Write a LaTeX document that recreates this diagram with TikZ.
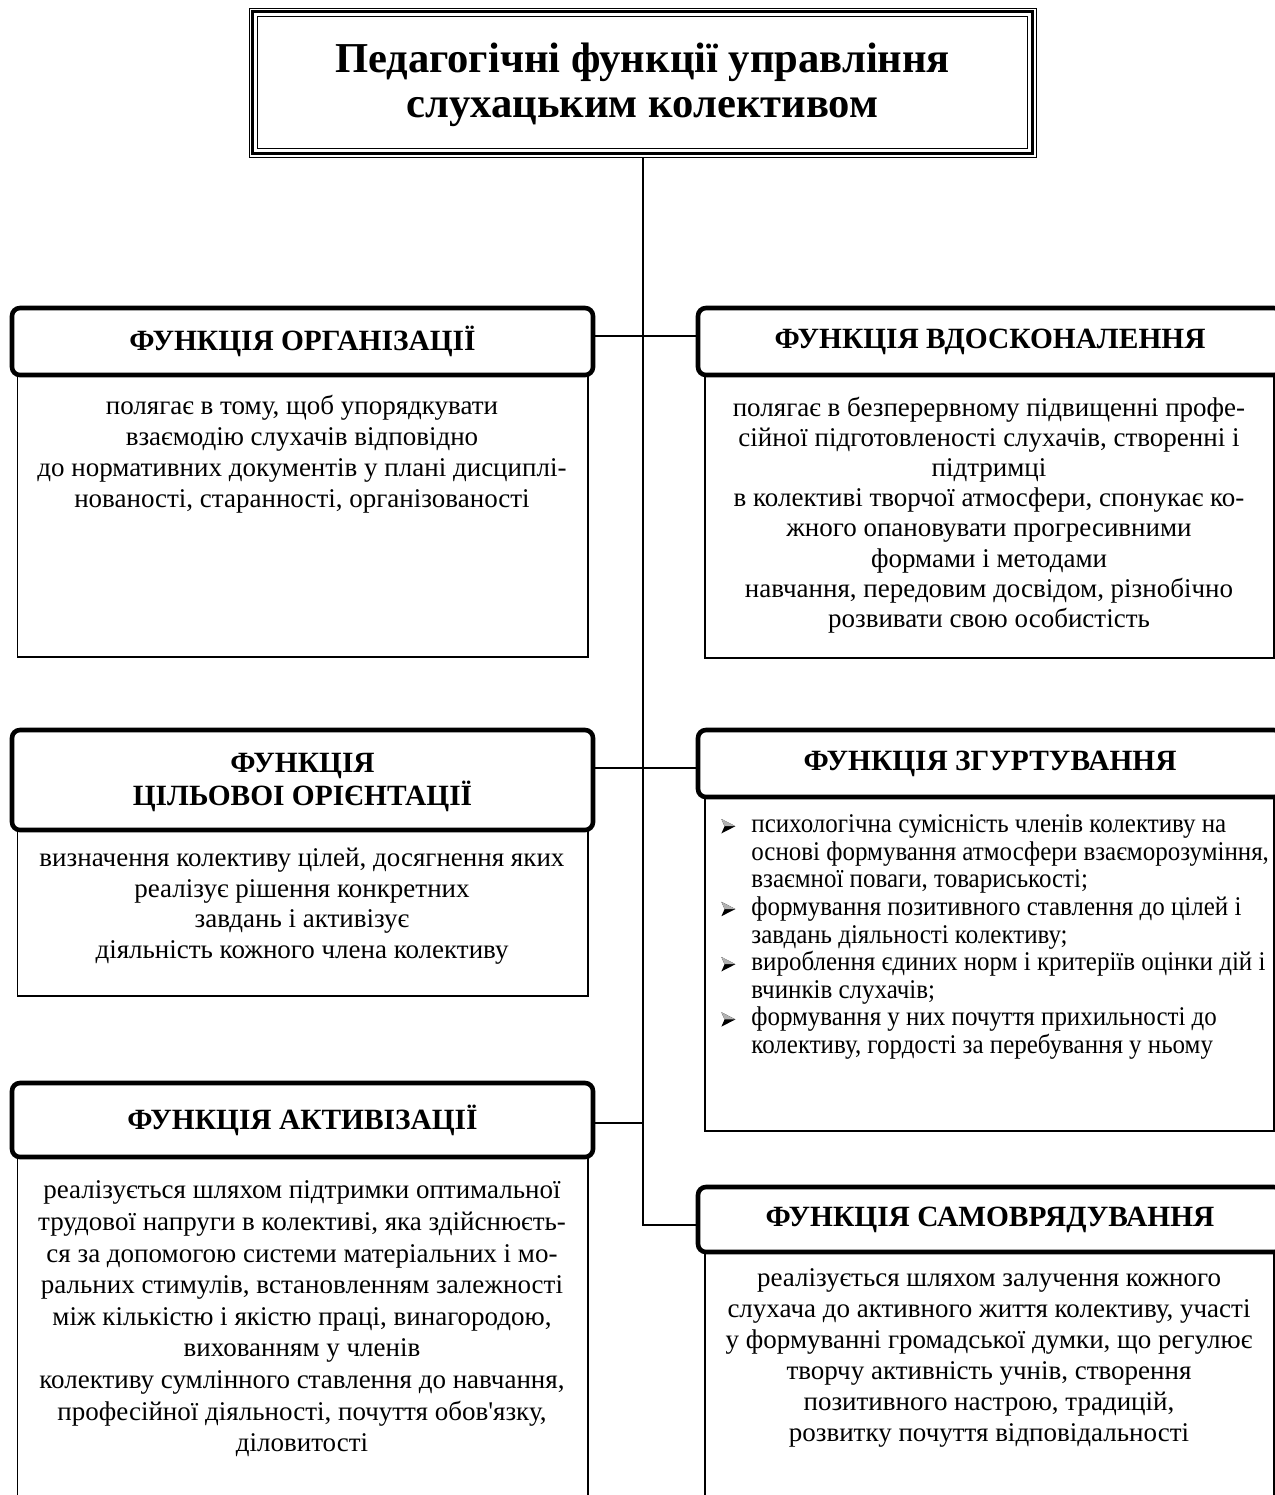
\documentclass[tikz,border=0pt]{standalone}
\usepackage{fontspec}
\setmainfont{Liberation Serif}[Ligatures=TeXOff]
\newfontfamily\condserif{Liberation Serif}[Ligatures=TeXOff, FakeStretch=0.925]
\newcommand\myarrow{\tikz[baseline=-3.2pt,x=1pt,y=1pt]{\fill[black] (0,3.6)--(7,0)--(0,-3.6)--(1.6,0)--cycle; \fill[gray!60] (0,3.6)--(7,0)--(1.6,0)--cycle;}}
\newcommand\mybul{\makebox[15pt][l]{\myarrow}}
\newcommand\myind{\hspace*{15pt}}
\begin{document}
\begin{tikzpicture}[x=0.5pt,y=-0.5pt,
  hdr/.style={draw, line width=2.3pt, rounded corners=4pt, fill=white, align=center,
    font=\fontsize{14.7}{16.5}\selectfont\bfseries, inner sep=0pt},
  bodybox/.style={draw, line width=0.85pt, fill=white, inner sep=0pt},
  txt/.style={align=center, font=\fontsize{13.5}{15.5}\selectfont, inner sep=0pt},
  conn/.style={line width=1pt}]
\fill[white] (0,0) rectangle (1275,1495);
\useasboundingbox (0,0) rectangle (1275,1495);

% title
\node[draw, line width=0.5pt, minimum width=393.5pt, minimum height=74.5pt, inner sep=0pt] (title) at (642.5,82.5) {};
\node[align=center, font=\fontsize{21.3}{22.5}\selectfont\bfseries, inner sep=0pt] (titletext) at (642.5,85)
  {Педагогічні функції управління\\слухацьким колективом};
\draw[line width=1.6pt] ([shift={(4,4)}]title.north west) rectangle ([shift={(-4,-4)}]title.south east);
\draw[line width=0.7pt] ([shift={(9,9)}]title.north west) rectangle ([shift={(-9,-9)}]title.south east);

% body boxes
\node[bodybox, minimum width=285.25pt, minimum height=141pt] (b1) at (302.75,516) {};
\node[bodybox, minimum width=284.5pt, minimum height=141pt] (b2) at (989.5,517) {};
\node[bodybox, minimum width=285.25pt, minimum height=83pt] (b3) at (302.75,913) {};
\node[bodybox, minimum width=284.5pt, minimum height=167pt] (b4) at (989.5,964) {};
\node[bodybox, minimum width=285.25pt, minimum height=176.5pt] (b5) at (302.75,1333.5) {};
\node[bodybox, minimum width=284.5pt, minimum height=129pt] (b6) at (989.5,1381) {};

% headers
\node[hdr, minimum width=290.5pt, minimum height=33.5pt] (h1) at (302.5,341.5) {ФУНКЦІЯ ОРГАНІЗАЦІЇ};
\node[hdr, minimum width=292pt, minimum height=33.5pt] (h2) at (990,341.5) {ФУНКЦІЯ ВДОСКОНАЛЕННЯ};
\node[hdr, minimum width=290.5pt, minimum height=50pt] (h3) at (302.5,780) {};
\node[align=center, font=\fontsize{14.7}{16.5}\selectfont\bfseries, inner sep=0pt] (h3t) at (302.5,782) {ФУНКЦІЯ\\ЦІЛЬОВОІ ОРІЄНТАЦІЇ};
\node[hdr, minimum width=292pt, minimum height=33.5pt] (h4) at (990,763.5) {ФУНКЦІЯ ЗГУРТУВАННЯ};
\node[hdr, minimum width=290.5pt, minimum height=37pt] (h5) at (302.5,1120) {ФУНКЦІЯ АКТИВІЗАЦІЇ};
\node[hdr, minimum width=292pt, minimum height=32.5pt] (h6) at (990,1219.5) {ФУНКЦІЯ САМОВРЯДУВАННЯ};

% connectors
\coordinate (tb) at ([yshift=-2.75pt]title.south |- h6.west);
\draw[conn] (title.south) -- (tb) -- (tb -| h6.west);
\draw[conn] ([yshift=2.75pt]h1.east) -- ([yshift=2.75pt]h1.east -| h2.west);
\draw[conn] ([yshift=6pt]h3.east) -- ([yshift=6pt]h3.east -| h4.west);
\draw[conn] ([yshift=-1.5pt]h5.east) -- ([yshift=-1.5pt]h5.east -| title.south);

% texts
\node[txt] (t1) at (302,454) {полягає в тому, щоб упорядкувати\\взаємодію слухачів відповідно\\до нормативних документів у плані дисциплі-\\нованості, старанності, організованості};
\node[txt, font=\fontsize{13.5}{15.1}\selectfont] (t2) at (989,515) {полягає в безперервному підвищенні профе-\\сійної підготовленості слухачів, створенні і\\підтримці\\в колективі творчої атмосфери, спонукає ко-\\жного опановувати прогресивними\\формами і методами\\навчання, передовим досвідом, різнобічно\\розвивати свою особистість};
\node[txt, font=\fontsize{13.5}{15.3}\selectfont] (t3) at (302,906) {визначення колективу цілей, досягнення яких\\реалізує рішення конкретних\\завдань і активізує\\діяльність кожного члена колективу};
\node[anchor=west, align=left, font=\condserif\fontsize{13.5}{13.8}\selectfont, inner sep=0pt] (t4) at (721,937) {%
\mybul психологічна сумісність членів колективу на\\
\myind основі формування атмосфери взаєморозуміння,\\
\myind взаємної поваги, товариськості;\\
\mybul формування позитивного ставлення до цілей і\\
\myind завдань діяльності колективу;\\
\mybul вироблення єдиних норм і критеріїв оцінки дій і\\
\myind вчинків слухачів;\\
\mybul формування у них почуття прихильності до\\
\myind колективу, гордості за перебування у ньому};
\node[txt, font=\fontsize{13.5}{15.8}\selectfont] (t5) at (302,1319) {реалізується шляхом підтримки оптимальної\\трудової напруги в колективі, яка здійснюєть-\\ся за допомогою системи матеріальних і мо-\\ральних стимулів, встановленням залежності\\між кількістю і якістю праці, винагородою,\\вихованням у членів\\колективу сумлінного ставлення до навчання,\\професійної діяльності, почуття обов'язку,\\діловитості};
\node[txt] (t6) at (989,1358) {реалізується шляхом залучення кожного\\слухача до активного життя колективу, участі\\у формуванні громадської думки, що регулює\\творчу активність учнів, створення\\позитивного настрою, традицій,\\розвитку почуття відповідальності};
\end{tikzpicture}
\end{document}
